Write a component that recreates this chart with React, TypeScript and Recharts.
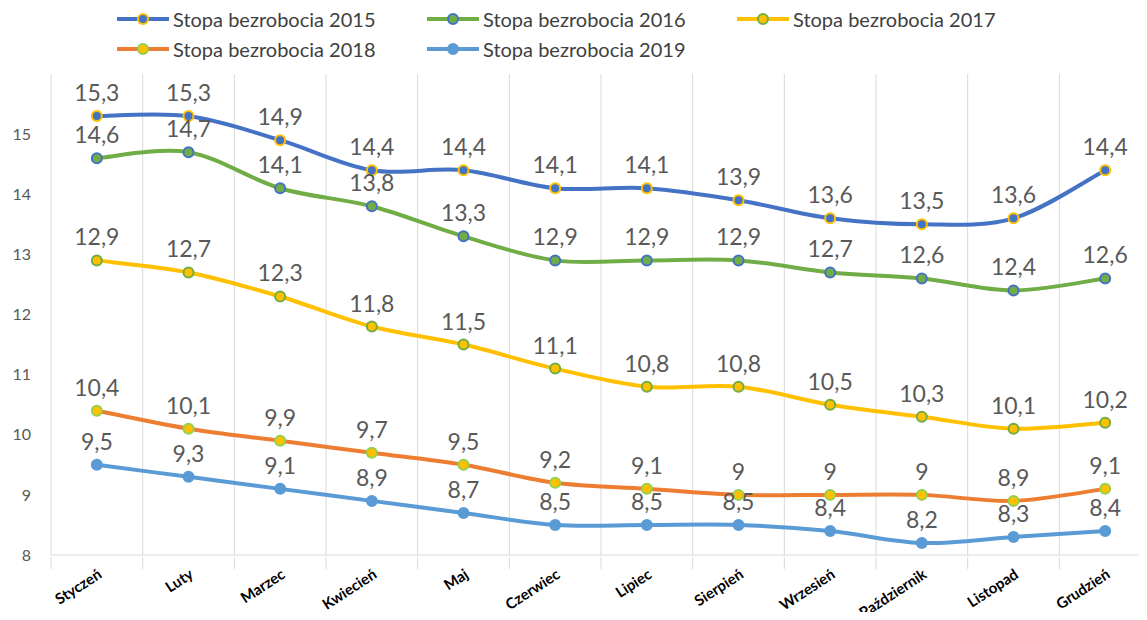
import { CartesianGrid, LabelList, Line, LineChart, XAxis, YAxis } from "recharts";

const months = [
  "Styczeń",
  "Luty",
  "Marzec",
  "Kwiecień",
  "Maj",
  "Czerwiec",
  "Lipiec",
  "Sierpień",
  "Wrzesień",
  "Październik",
  "Listopad",
  "Grudzień",
];

const rate2015 = [15.3, 15.3, 14.9, 14.4, 14.4, 14.1, 14.1, 13.9, 13.6, 13.5, 13.6, 14.4];
const rate2016 = [14.6, 14.7, 14.1, 13.8, 13.3, 12.9, 12.9, 12.9, 12.7, 12.6, 12.4, 12.6];
const rate2017 = [12.9, 12.7, 12.3, 11.8, 11.5, 11.1, 10.8, 10.8, 10.5, 10.3, 10.1, 10.2];
const rate2018 = [10.4, 10.1, 9.9, 9.7, 9.5, 9.2, 9.1, 9, 9, 9, 8.9, 9.1];
const rate2019 = [9.5, 9.3, 9.1, 8.9, 8.7, 8.5, 8.5, 8.5, 8.4, 8.2, 8.3, 8.4];

const yTicks = [8, 9, 10, 11, 12, 13, 14, 15];

const series = [
  { key: "y2015", name: "Stopa bezrobocia 2015", line: "#4472C4", fill: "#4472C4", ring: "#FFC000" },
  { key: "y2016", name: "Stopa bezrobocia 2016", line: "#70AD47", fill: "#70AD47", ring: "#4472C4" },
  { key: "y2017", name: "Stopa bezrobocia 2017", line: "#FFC000", fill: "#FFC000", ring: "#70AD47" },
  { key: "y2018", name: "Stopa bezrobocia 2018", line: "#ED7D31", fill: "#FFC000", ring: "#92D050" },
  { key: "y2019", name: "Stopa bezrobocia 2019", line: "#5B9BD5", fill: "#5B9BD5", ring: "#5B9BD5" },
];

const data = months.map((m, i) => ({
  month: m,
  y2015: rate2015[i],
  y2016: rate2016[i],
  y2017: rate2017[i],
  y2018: rate2018[i],
  y2019: rate2019[i],
}));

const W = 1155;
const H = 620;
const margin = { top: 74, right: 4, bottom: 5, left: 11 };
const yAxisW = 40;
const step = (W - margin.left - margin.right - yAxisW) / months.length;
const FONT = "Lato, 'DejaVu Sans', sans-serif";

const fmt = (v: any) => String(v).replace(".", ",");

// Excel-like smoothed line (Catmull-Rom style bezier through the points)
function excelCurve(context: any) {
  let pts: number[][] = [];
  return {
    areaStart() {},
    areaEnd() {},
    lineStart() {
      pts = [];
    },
    point(x: number, y: number) {
      pts.push([+x, +y]);
    },
    lineEnd() {
      const n = pts.length;
      if (!n) return;
      context.moveTo(pts[0][0], pts[0][1]);
      for (let i = 0; i < n - 1; i++) {
        const p0 = pts[Math.max(i - 1, 0)];
        const p1 = pts[i];
        const p2 = pts[i + 1];
        const p3 = pts[Math.min(i + 2, n - 1)];
        const t = 1 / 6;
        context.bezierCurveTo(
          p1[0] + (p2[0] - p0[0]) * t,
          p1[1] + (p2[1] - p0[1]) * t,
          p2[0] - (p3[0] - p1[0]) * t,
          p2[1] - (p3[1] - p1[1]) * t,
          p2[0],
          p2[1]
        );
      }
    },
  };
}

function MonthTick(props: any) {
  const { x, y, payload, index } = props;
  const left = x - step / 2;
  const tx = x + 6;
  const ty = y + 14;
  return (
    <g>
      <line x1={left} y1={y - 6} x2={left} y2={y + 6} stroke="#d9d9d9" />
      {index === months.length - 1 && (
        <line x1={x + step / 2} y1={y - 6} x2={x + step / 2} y2={y + 6} stroke="#d9d9d9" />
      )}
      <text
        x={tx}
        y={ty}
        textAnchor="end"
        transform={`rotate(-33, ${tx}, ${ty})`}
        fontFamily={FONT}
        fontWeight="bold"
        fontSize={15}
        fill="#000"
      >
        {payload.value}
      </text>
    </g>
  );
}

function Legend() {
  const rows = [
    [series[0], series[1], series[2]],
    [series[3], series[4]],
  ];
  return (
    <div style={{ position: "absolute", left: 0, top: 0, width: W, fontFamily: FONT }}>
      {rows.map((row, r) =>
        row.map((s, c) => (
          <div
            key={s.key}
            style={{
              position: "absolute",
              left: 117 + c * 310,
              top: (r === 0 ? 19 : 49) - 12,
              height: 24,
              display: "flex",
              alignItems: "center",
              whiteSpace: "nowrap",
            }}
          >
            <svg width={56} height={24}>
              <line x1={0} y1={12} x2={52} y2={12} stroke={s.line} strokeWidth={4} />
              <circle cx={26} cy={12} r={5} fill={s.fill} stroke={s.ring} strokeWidth={2} />
            </svg>
            <span style={{ fontSize: 20, color: "#404040" }}>{s.name}</span>
          </div>
        ))
      )}
    </div>
  );
}

export default function App() {
  return (
    <div style={{ margin: -8, width: 1147, height: H, overflow: "hidden", position: "relative", background: "#fff" }}>
      <LineChart width={W} height={H} data={data} margin={margin}>
        <CartesianGrid
          horizontal={false}
          stroke="#d9d9d9"
          verticalCoordinatesGenerator={({ offset }: any) =>
            Array.from({ length: months.length + 1 }, (_, i) => offset.left + (i * offset.width) / months.length)
          }
        />
        <XAxis
          dataKey="month"
          interval={0}
          height={60}
          padding={{ left: step / 2, right: step / 2 }}
          axisLine={{ stroke: "#d9d9d9" }}
          tickLine={false}
          tick={<MonthTick />}
        />
        <YAxis
          width={yAxisW}
          domain={[8, 16]}
          ticks={yTicks}
          axisLine={false}
          tickLine={false}
          tickSize={0}
          tickMargin={20}
          tick={{ fill: "#595959", fontSize: 16, fontFamily: FONT }}
        />
        {series.map((s) => (
          <Line
            key={s.key}
            type={excelCurve as any}
            dataKey={s.key}
            name={s.name}
            stroke={s.line}
            strokeWidth={4}
            dot={{ r: 5, fill: s.fill, stroke: s.ring, strokeWidth: 2 }}
            activeDot={false}
            isAnimationActive={false}
          >
            <LabelList
              dataKey={s.key}
              position="top"
              offset={15}
              formatter={fmt}
              style={{ fill: "#595959", fontSize: 23, fontFamily: FONT }}
            />
          </Line>
        ))}
      </LineChart>
      <Legend />
    </div>
  );
}
